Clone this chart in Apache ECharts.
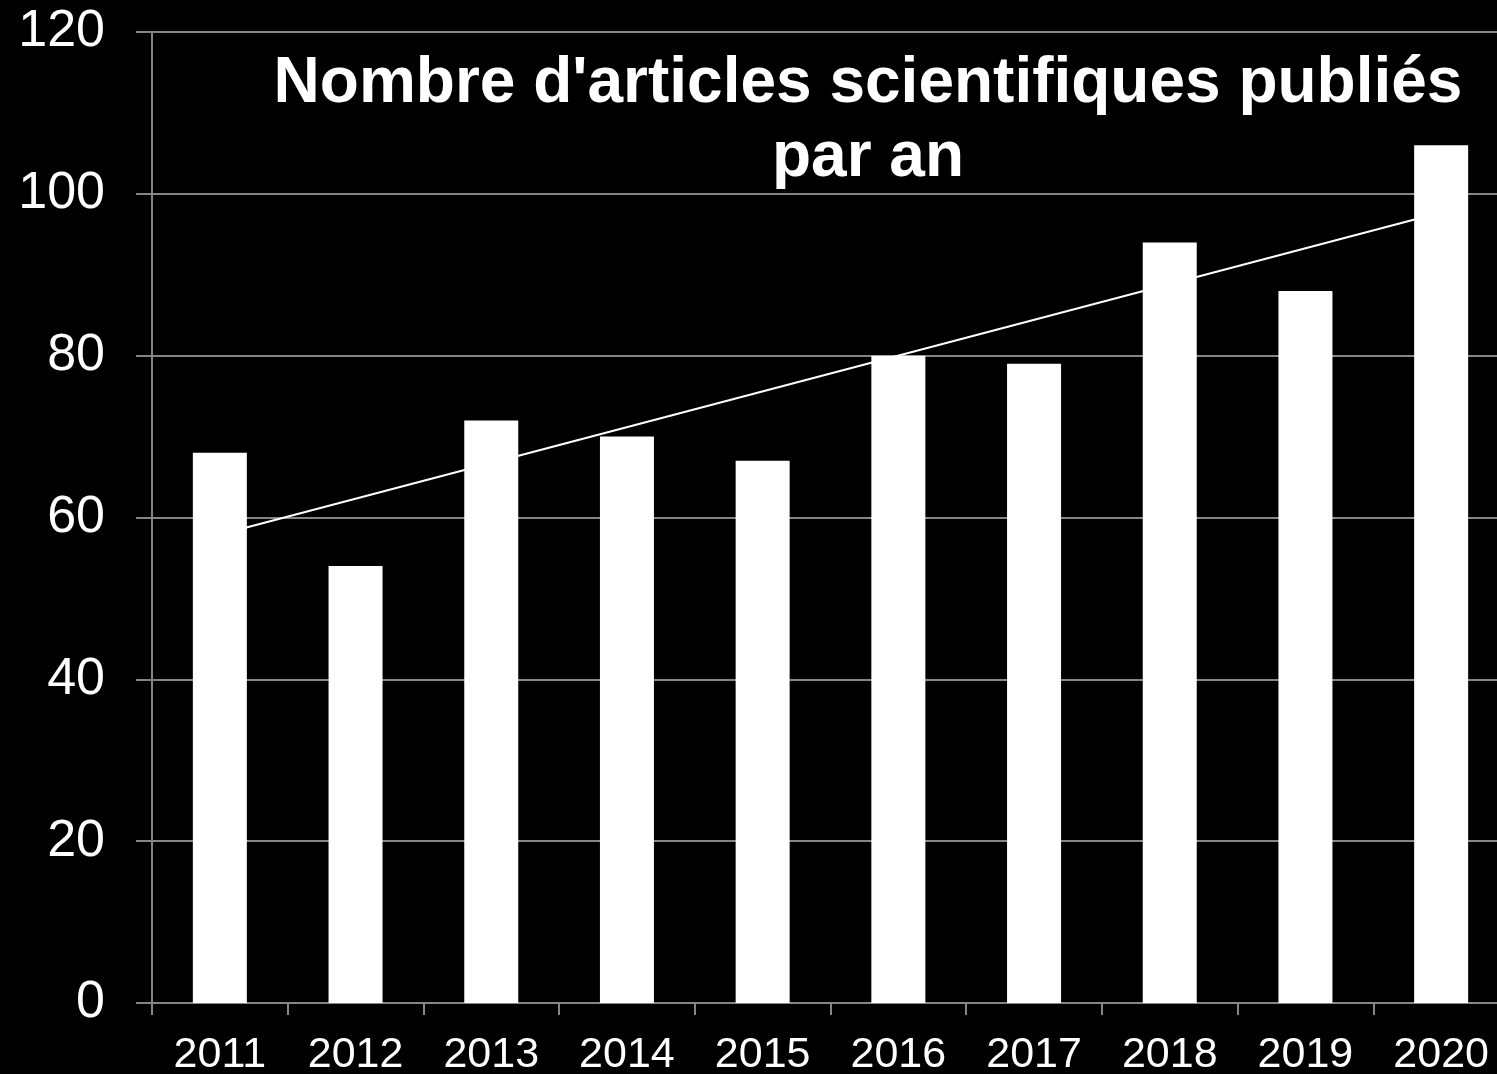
<!DOCTYPE html>
<html>
<head>
<meta charset="utf-8">
<script src="https://cdn.jsdelivr.net/npm/echarts@6/dist/echarts.min.js"></script>
<style>
html, body { margin: 0; padding: 0; background: #000; overflow: hidden; }
#chart { width: 1497px; height: 1074px; }
</style>
</head>
<body>
<div id="chart"></div>
<script>
// données
const years = ['2011', '2012', '2013', '2014', '2015', '2016', '2017', '2018', '2019', '2020']
const articles = [68, 54, 72, 70, 67, 80, 79, 94, 88, 106]
// courbe de tendance : seulement les deux extrémités
const trend = [57.9, null, null, null, null, null, null, null, null, 97.7]

const gray = '#858585'
const chart = echarts.init(document.getElementById('chart'))
chart.setOption({
  backgroundColor: '#000',
  animation: false,
  title: {
    text: "Nombre d'articles scientifiques publiés\npar an",
    left: 863,
    top: 42,
    textAlign: 'center',
    textStyle: {
      color: '#fff',
      fontFamily: 'Liberation Sans',
      fontWeight: 'bold',
      fontSize: 64,
      lineHeight: 74
    }
  },
  grid: {
    left: 152,
    top: 32,
    width: 1357,
    height: 971,
    outerBoundsMode: 'none',
    containLabel: false
  },
  xAxis: {
    type: 'category',
    data: years,
    axisLine: { lineStyle: { color: gray, width: 2 } },
    axisTick: { show: true, length: 12, lineStyle: { color: gray, width: 2 } },
    axisLabel: {
      color: '#fff',
      fontFamily: 'Liberation Sans',
      fontSize: 43,
      margin: 31
    },
    splitLine: { show: false }
  },
  yAxis: {
    type: 'value',
    min: 0,
    max: 120,
    interval: 20,
    axisLine: { show: true, lineStyle: { color: gray, width: 2 } },
    axisTick: { show: true, length: 16, lineStyle: { color: gray, width: 2 } },
    axisLabel: {
      color: '#fff',
      fontFamily: 'Liberation Sans',
      fontSize: 52,
      margin: 47
    },
    splitLine: { show: true, lineStyle: { color: gray, width: 2 } }
  },
  series: [
    {
      name: 'tendance',
      type: 'line',
      data: trend,
      connectNulls: true,
      symbol: 'none',
      z: 1,
      lineStyle: { color: '#fff', width: 2 }
    },
    {
      name: 'articles',
      type: 'bar',
      data: articles,
      barWidth: 54,
      z: 2,
      itemStyle: { color: '#fff' }
    }
  ]
})
</script>
</body>
</html>
